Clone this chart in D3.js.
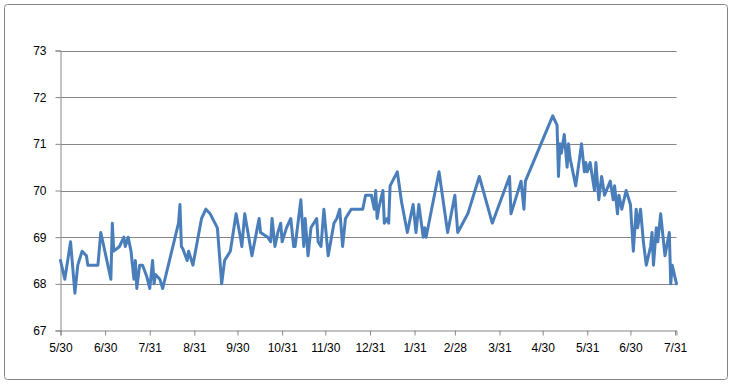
<!DOCTYPE html>
<html>
<head>
<meta charset="utf-8">
<script src="https://cdn.jsdelivr.net/npm/d3@7"></script>
<style>
  body { margin: 0; background: #fff; }
  text { font-family: "Liberation Sans", Arial, sans-serif; font-size: 12px; fill: #000; }
</style>
</head>
<body>
<svg id="chart" width="732" height="385"></svg>
<script>
// values
var dates = [
    "2010-05-30","2010-06-02","2010-06-06","2010-06-09","2010-06-11","2010-06-14","2010-06-17","2010-06-18",
    "2010-06-25","2010-06-27","2010-07-04","2010-07-05","2010-07-06","2010-07-10","2010-07-13","2010-07-14",
    "2010-07-16","2010-07-18","2010-07-20","2010-07-21","2010-07-22","2010-07-24","2010-07-26","2010-07-29",
    "2010-07-31","2010-08-02","2010-08-03","2010-08-04","2010-08-07","2010-08-09","2010-08-20","2010-08-21",
    "2010-08-22","2010-08-23","2010-08-26","2010-08-27","2010-08-30","2010-09-05","2010-09-08","2010-09-11",
    "2010-09-16","2010-09-19","2010-09-21","2010-09-25","2010-09-29","2010-10-02","2010-10-03","2010-10-05",
    "2010-10-10","2010-10-15","2010-10-16","2010-10-21","2010-10-23","2010-10-24","2010-10-26","2010-10-28",
    "2010-10-30","2010-10-31","2010-11-03","2010-11-06","2010-11-08","2010-11-09","2010-11-13","2010-11-15",
    "2010-11-16","2010-11-18","2010-11-20","2010-11-24","2010-11-25","2010-11-27","2010-11-29","2010-12-02",
    "2010-12-06","2010-12-08","2010-12-10","2010-12-12","2010-12-14","2010-12-18","2010-12-26","2010-12-28",
    "2011-01-01","2011-01-02","2011-01-03","2011-01-04","2011-01-05","2011-01-06","2011-01-09","2011-01-10",
    "2011-01-12","2011-01-13","2011-01-14","2011-01-19","2011-01-22","2011-01-26","2011-01-30","2011-02-01",
    "2011-02-03","2011-02-06","2011-02-07","2011-02-08","2011-02-17","2011-02-23","2011-02-28","2011-03-02",
    "2011-03-09","2011-03-17","2011-03-26","2011-04-07","2011-04-08","2011-04-15","2011-04-17","2011-04-18",
    "2011-05-07","2011-05-10","2011-05-11","2011-05-12","2011-05-13","2011-05-15","2011-05-17","2011-05-18",
    "2011-05-19","2011-05-23","2011-05-27","2011-05-29","2011-05-30","2011-05-31","2011-06-02","2011-06-05",
    "2011-06-06","2011-06-08","2011-06-10","2011-06-12","2011-06-16","2011-06-18","2011-06-19","2011-06-21",
    "2011-06-22","2011-06-24","2011-06-27","2011-06-30","2011-07-02","2011-07-04","2011-07-05","2011-07-07",
    "2011-07-09","2011-07-11","2011-07-14","2011-07-15","2011-07-16","2011-07-18","2011-07-19","2011-07-21",
    "2011-07-24","2011-07-27","2011-07-28","2011-07-29","2011-08-01"
];

var values = [
    68.5, 68.1, 68.9, 67.8, 68.4, 68.7, 68.6, 68.4,
    68.4, 69.1, 68.1, 69.3, 68.7, 68.8, 69.0, 68.8,
    69.0, 68.7, 68.1, 68.5, 67.9, 68.4, 68.4, 68.15,
    67.9, 68.5, 68.0, 68.2, 68.1, 67.9, 69.3, 69.7,
    68.8, 68.75, 68.5, 68.7, 68.4, 69.4, 69.6, 69.5,
    69.2, 68.0, 68.5, 68.7, 69.5, 69.0, 68.8, 69.5,
    68.6, 69.4, 69.1, 69.0, 68.9, 69.4, 68.8, 69.1,
    69.3, 68.9, 69.2, 69.4, 68.8, 68.8, 69.8, 68.8,
    69.4, 68.6, 69.2, 69.4, 68.9, 68.8, 69.6, 68.6,
    69.3, 69.4, 69.6, 68.8, 69.4, 69.6, 69.6, 69.9,
    69.9, 69.75, 69.6, 70.0, 69.4, 69.6, 70.0, 69.3,
    69.4, 69.3, 70.1, 70.4, 69.75, 69.1, 69.7, 69.1,
    69.7, 69.0, 69.2, 69.0, 70.4, 69.1, 69.9, 69.1,
    69.5, 70.3, 69.3, 70.3, 69.5, 70.2, 69.6, 70.2,
    71.6, 71.4, 70.3, 71.0, 70.8, 71.2, 70.5, 71.0,
    70.7, 70.1, 71.0, 70.4, 70.6, 70.4, 70.6, 70.0,
    70.6, 69.8, 70.3, 69.9, 70.2, 69.8, 70.1, 69.5,
    69.9, 69.6, 70.0, 69.7, 68.7, 69.6, 69.2, 69.6,
    68.9, 68.4, 68.8, 69.1, 68.4, 69.2, 68.9, 69.5,
    68.6, 69.1, 68.0, 68.4, 68.0
];

var tickDates = [
    "2010-05-30","2010-06-30","2010-07-31","2010-08-31","2010-09-30","2010-10-31","2010-11-30",
    "2010-12-31","2011-01-31","2011-02-28","2011-03-31","2011-04-30","2011-05-31","2011-06-30","2011-07-31"
];
var yTicks = [67, 68, 69, 70, 71, 72, 73];

(function () {
    var parse = d3.timeParse("%Y-%m-%d");
    var fmt = d3.timeFormat("%-m/%-d");

    var data = dates.map((d, i) => ({date: parse(d), value: values[i]}));

    var svg = d3.select("#chart");

    var plotLeft = 60.5, plotRight = 676.5, plotTop = 50.5, plotBottom = 330.5;

    // chart area border
    svg.append("rect")
        .attr("x", 4.5).attr("y", 4.5)
        .attr("width", 723).attr("height", 375)
        .attr("rx", 3).attr("ry", 3)
        .attr("fill", "#fff")
        .attr("stroke", "#868686");

    var x = d3.scaleTime()
        .domain(d3.extent(data, d => d.date))
        .range([plotLeft, plotRight]);

    var y = d3.scaleLinear()
        .domain([67, 73])
        .range([plotBottom, plotTop]);

    // gridlines
    svg.append("g")
        .selectAll("line")
        .data(yTicks.slice(1))
        .enter().append("line")
        .attr("x1", plotLeft).attr("x2", plotRight)
        .attr("y1", d => Math.round(y(d)) + 0.5)
        .attr("y2", d => Math.round(y(d)) + 0.5)
        .attr("stroke", "#868686")
        .attr("stroke-width", 1);

    // y axis
    var yAxis = svg.append("g")
        .attr("transform", "translate(" + plotLeft + ",0)")
        .call(d3.axisLeft(y).tickValues(yTicks).tickSize(5).tickPadding(9).tickFormat(d3.format("d")));

    // x axis
    var xAxis = svg.append("g")
        .attr("transform", "translate(0," + plotBottom + ")")
        .call(d3.axisBottom(x).tickValues(tickDates.map(parse)).tickSize(5).tickPadding(8).tickFormat(fmt));

    [yAxis, xAxis].forEach(function (ax) {
        ax.select(".domain").attr("stroke", "#868686");
        ax.selectAll(".tick line").attr("stroke", "#868686");
        ax.selectAll("text")
            .attr("font-family", "Liberation Sans, Arial, sans-serif")
            .attr("font-size", "12px")
            .attr("fill", "#000");
    });

    // the series line
    var line = d3.line()
        .x(d => x(d.date))
        .y(d => y(d.value));

    svg.append("path")
        .datum(data)
        .attr("d", line)
        .attr("fill", "none")
        .attr("stroke", "#4A7EBB")
        .attr("stroke-width", 3)
        .attr("stroke-linejoin", "round")
        .attr("stroke-linecap", "round");
})();
</script>
</body>
</html>
